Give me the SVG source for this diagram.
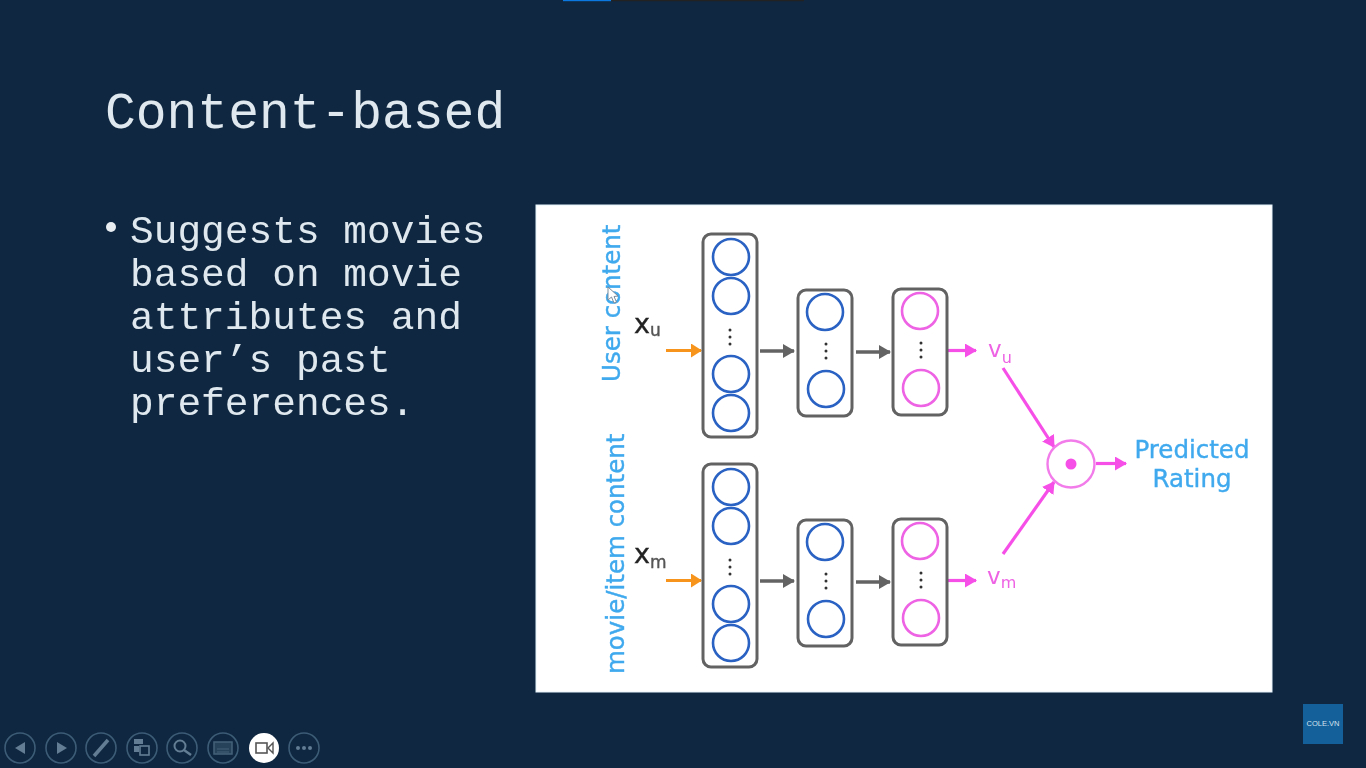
<svg xmlns="http://www.w3.org/2000/svg" width="1366" height="768" viewBox="0 0 1366 768">
<style>
.mono{font-family:"Liberation Mono","Courier New",monospace;fill:#dfe8ee}
.sans{font-family:"DejaVu Sans","Liberation Sans",sans-serif}
.box{fill:#fff;stroke:#626262;stroke-width:3}
.b{fill:none;stroke:#2a62c4;stroke-width:2.6}
.p{fill:none;stroke:#ee62e4;stroke-width:2.6}
.dots{fill:#333}
.cy{fill:#3fa9ee;stroke:#3fa9ee;stroke-width:.4}
.tb{fill:none;stroke:#3c5b76;stroke-width:1.6}
.ti{fill:#627d94}
.l-o{stroke:#f7941d;stroke-width:3;fill:none;marker-end:url(#ao)}
.l-g{stroke:#636363;stroke-width:3.5;fill:none;marker-end:url(#ag)}
.l-p{stroke:#f64fe8;stroke-width:3.200;fill:none;marker-end:url(#ap)}
</style>
<defs>
<marker id="ao" markerUnits="userSpaceOnUse" markerWidth="11" markerHeight="14" refX="10" refY="7" orient="auto"><path d="M0 0L11 7L0 14z" fill="#f7941d"/></marker>
<marker id="ag" markerUnits="userSpaceOnUse" markerWidth="12" markerHeight="14" refX="11" refY="7" orient="auto"><path d="M0 0L12 7L0 14z" fill="#636363"/></marker>
<marker id="ap" markerUnits="userSpaceOnUse" markerWidth="12" markerHeight="14" refX="11" refY="7" orient="auto"><path d="M0 0L12 7L0 14z" fill="#f64fe8"/></marker>
<filter id="soft" x="-2%" y="-2%" width="104%" height="104%"><feGaussianBlur stdDeviation="0.5"/></filter>
</defs>
<rect width="1366" height="768" fill="#0f2740"/>
<rect x="563" y="0" width="48" height="1.2" fill="#0a78e0"/>
<rect x="611" y="0" width="193" height="1.2" fill="#222"/>

<g id="title"><text class="mono" x="105" y="128" font-size="51.3" filter="url(#soft)">Content-based</text></g>
<g id="body" filter="url(#soft)">
<circle cx="111" cy="227" r="5" fill="#e8eef2"/>
<text class="mono" x="130" y="243" font-size="39.5">Suggests movies</text>
<text class="mono" x="130" y="286" font-size="39.5">based on movie</text>
<text class="mono" x="130" y="329" font-size="39.5">attributes and</text>
<text class="mono" x="130" y="372" font-size="39.5">user’s past</text>
<text class="mono" x="130" y="415" font-size="39.5">preferences.</text>
</g>

<rect id="panel" x="536" y="205" width="736" height="487" fill="#fff" stroke="#e6f3fb" stroke-width="1"/>

<g id="diagram" filter="url(#soft)">
<g id="labels">
<text class="sans cy" font-size="24.500" transform="translate(620 382) rotate(-90)">User content</text>
<text class="sans cy" font-size="24.500" transform="translate(624 674) rotate(-90)">movie/item content</text>
<text class="sans" x="634" y="333" font-size="27" fill="#222" stroke="#222" stroke-width=".4">x<tspan font-size="17" dy="3" fill="#555" stroke="#555">u</tspan></text>
<text class="sans" x="634" y="563" font-size="27" fill="#222" stroke="#222" stroke-width=".4">x<tspan font-size="17" dy="5" fill="#555" stroke="#555">m</tspan></text>
<text class="sans" x="988" y="357" font-size="23" fill="#ee62e4">v<tspan font-size="16" dy="6">u</tspan></text>
<text class="sans" x="987" y="584" font-size="23" fill="#ee62e4">v<tspan font-size="16" dy="4">m</tspan></text>
<text class="sans cy" x="1192" y="458" font-size="24.500" text-anchor="middle">Predicted</text>
<text class="sans cy" x="1192" y="487" font-size="24.500" text-anchor="middle">Rating</text>
</g>

<g id="connectors">
<path class="l-o" d="M666 350.500H701"/>
<path class="l-g" d="M760 351H794"/>
<path class="l-g" d="M856 352H890"/>
<path class="l-p" d="M948 350.500H976"/>
<path class="l-o" d="M666 580.500H701"/>
<path class="l-g" d="M760 581H794"/>
<path class="l-g" d="M856 582H890"/>
<path class="l-p" d="M948 580.500H976"/>
<path class="l-p" d="M1003 368L1054 447"/>
<path class="l-p" d="M1003 554L1054 482"/>
<path class="l-p" d="M1096 463.500H1126"/>
</g>

<g id="u1"><rect class="box" x="703" y="234" width="54" height="203" rx="8"/>
<circle class="b" cx="731" cy="257" r="18"/><circle class="b" cx="731" cy="296" r="18"/><circle class="b" cx="731" cy="374" r="18"/><circle class="b" cx="731" cy="413" r="18"/>
<g class="dots"><circle cx="730" cy="330" r="1.500"/><circle cx="730" cy="337" r="1.500"/><circle cx="730" cy="344" r="1.500"/></g></g>
<g id="u2"><rect class="box" x="798" y="290" width="54" height="126" rx="8"/>
<circle class="b" cx="825" cy="312" r="18"/><circle class="b" cx="826" cy="389" r="18"/>
<g class="dots"><circle cx="826" cy="344" r="1.500"/><circle cx="826" cy="351" r="1.500"/><circle cx="826" cy="358" r="1.500"/></g></g>
<g id="u3"><rect class="box" x="893" y="289" width="54" height="126" rx="8"/>
<circle class="p" cx="920" cy="311" r="18"/><circle class="p" cx="921" cy="388" r="18"/>
<g class="dots"><circle cx="921" cy="343" r="1.500"/><circle cx="921" cy="350" r="1.500"/><circle cx="921" cy="357" r="1.500"/></g></g>
<g id="m1"><rect class="box" x="703" y="464" width="54" height="203" rx="8"/>
<circle class="b" cx="731" cy="487" r="18"/><circle class="b" cx="731" cy="526" r="18"/><circle class="b" cx="731" cy="604" r="18"/><circle class="b" cx="731" cy="643" r="18"/>
<g class="dots"><circle cx="730" cy="560" r="1.500"/><circle cx="730" cy="567" r="1.500"/><circle cx="730" cy="574" r="1.500"/></g></g>
<g id="m2"><rect class="box" x="798" y="520" width="54" height="126" rx="8"/>
<circle class="b" cx="825" cy="542" r="18"/><circle class="b" cx="826" cy="619" r="18"/>
<g class="dots"><circle cx="826" cy="574" r="1.500"/><circle cx="826" cy="581" r="1.500"/><circle cx="826" cy="588" r="1.500"/></g></g>
<g id="m3"><rect class="box" x="893" y="519" width="54" height="126" rx="8"/>
<circle class="p" cx="920" cy="541" r="18"/><circle class="p" cx="921" cy="618" r="18"/>
<g class="dots"><circle cx="921" cy="573" r="1.500"/><circle cx="921" cy="580" r="1.500"/><circle cx="921" cy="587" r="1.500"/></g></g>
<g id="dot-product"><circle cx="1071" cy="464" r="23.500" fill="#fff" stroke="#f27cea" stroke-width="2.400"/><circle cx="1071" cy="464" r="5.500" fill="#f64fe8"/></g>
<path id="cursor" d="M608 287L608 300L611.500 297L614 303L616.500 302L614 296.500L618 296Z" fill="#fff" stroke="#7a8a9a" stroke-width="1"/>
</g>

<g id="toolbar" filter="url(#soft)">
<circle class="tb" cx="20" cy="748" r="15"/><path class="ti" d="M25 742V754L15 748Z"/>
<circle class="tb" cx="61" cy="748" r="15"/><path class="ti" d="M57 742V754L67 748Z"/>
<circle class="tb" cx="101" cy="748" r="15"/><path d="M94 756L108 740" stroke="#627d94" stroke-width="3.500"/>
<circle class="tb" cx="142" cy="748" r="15"/><path class="ti" d="M134 739h9v5h-9zM134 746h5v6h-5z"/><rect x="140" y="746" width="9" height="9" fill="none" stroke="#627d94" stroke-width="1.600"/>
<circle class="tb" cx="182" cy="748" r="15"/><circle cx="180" cy="746" r="5.500" fill="none" stroke="#627d94" stroke-width="2"/><path d="M184 750L191 755" stroke="#627d94" stroke-width="2.500"/>
<circle class="tb" cx="223" cy="748" r="15"/><rect x="214" y="742" width="18" height="12" fill="#27425a" stroke="#44617a" stroke-width="1.500"/><path d="M217 749h12M217 752h12" stroke="#44617a" stroke-width="1"/>
<circle cx="264" cy="748" r="15" fill="#fff"/><rect x="256" y="743" width="11" height="10" fill="none" stroke="#555" stroke-width="1.600"/><path d="M268 748L273 743V753Z" fill="none" stroke="#555" stroke-width="1.400"/>
<circle class="tb" cx="304" cy="748" r="15"/><g class="ti"><circle cx="298" cy="748" r="2"/><circle cx="304" cy="748" r="2"/><circle cx="310" cy="748" r="2"/></g>
</g>

<g id="logo"><rect x="1303" y="704" width="40" height="40" fill="#14609b"/><text x="1323" y="725.500" font-size="7.500" text-anchor="middle" fill="#d5e3ee" font-family="Liberation Sans,sans-serif">COLE.VN</text></g>
</svg>
